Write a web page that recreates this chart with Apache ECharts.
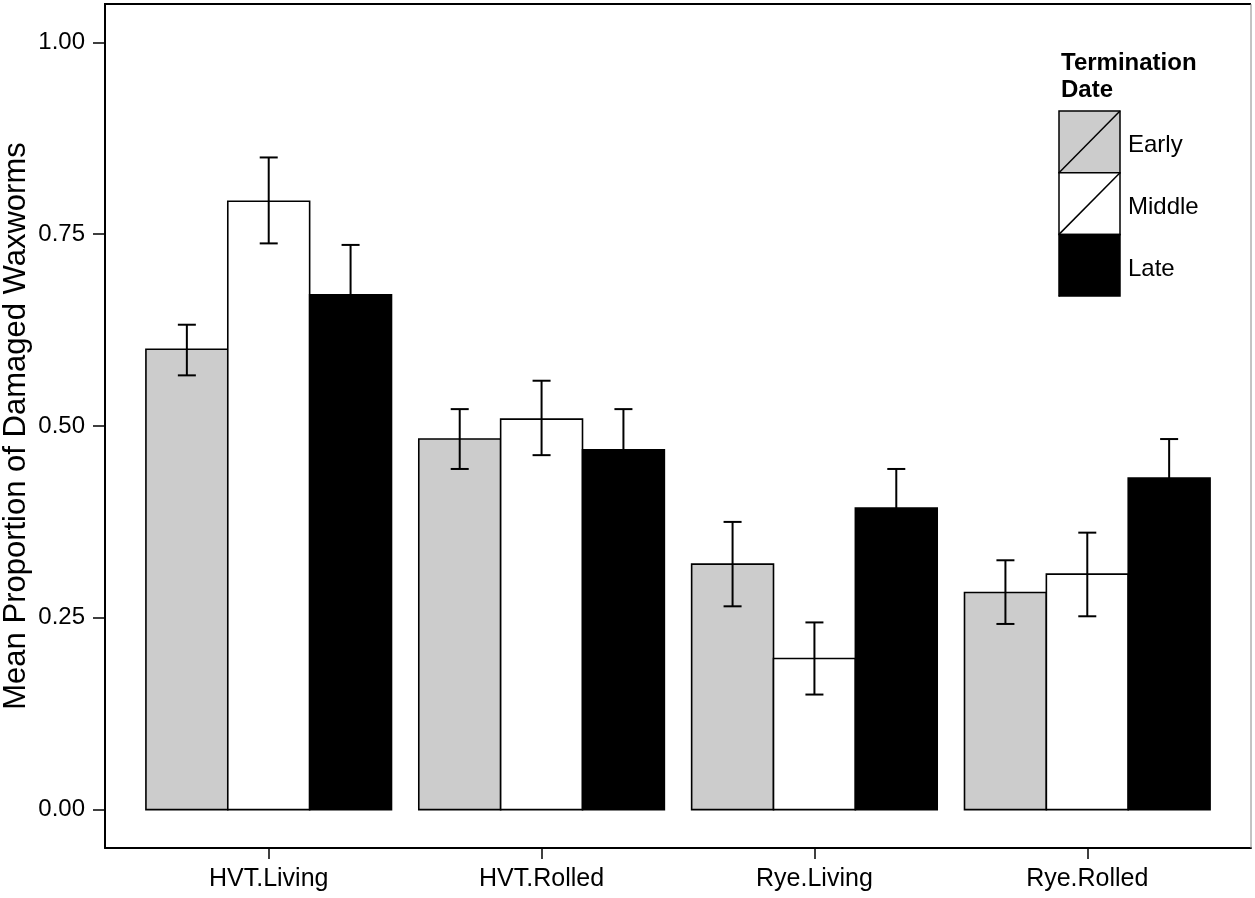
<!DOCTYPE html>
<html>
<head>
<meta charset="utf-8">
<script src="https://cdn.jsdelivr.net/npm/echarts@6/dist/echarts.min.js"></script>
<style>
html,body{margin:0;padding:0;background:#fff;}
#chart{width:1255px;height:898px;}
</style>
</head>
<body>
<div id="chart"></div>
<script>
const categories = ['HVT.Living', 'HVT.Rolled', 'Rye.Living', 'Rye.Rolled'];
const groups = ['Early', 'Middle', 'Late'];
const yTicks = [0, 0.25, 0.5, 0.75, 1.0];

const early    = [0.600, 0.483, 0.320, 0.283];
const earlyLo  = [0.566, 0.444, 0.265, 0.242];
const earlyHi  = [0.632, 0.522, 0.375, 0.325];

const middle   = [0.793, 0.509, 0.197, 0.307];
const middleLo = [0.738, 0.462, 0.150, 0.252];
const middleHi = [0.850, 0.559, 0.244, 0.361];

const late     = [0.671, 0.469, 0.393, 0.432];
const lateLo   = [0.606, 0.416, 0.341, 0.381];
const lateHi   = [0.736, 0.522, 0.444, 0.483];

const colors = ['#cccccc', '#ffffff', '#000000'];
const FONT = "'Liberation Sans', Arial, sans-serif";

const BAR_W = 0.3;
const offsets = [-0.3, 0, 0.3];
const WHISK = 0.033;

function barSeries(name, values, gi) {
  return {
    name: name,
    type: 'custom',
    data: values.map((v, i) => [i + 1, v]),
    renderItem: function (params, api) {
      const x = api.value(0) + offsets[gi];
      const v = api.value(1);
      const p1 = api.coord([x - BAR_W / 2, v]);
      const p2 = api.coord([x + BAR_W / 2, 0]);
      return {
        type: 'rect',
        shape: { x: p1[0], y: p1[1], width: p2[0] - p1[0], height: p2[1] - p1[1] },
        style: { fill: colors[gi], stroke: '#000', lineWidth: 1.6 }
      };
    },
    z: 2
  };
}

function errSeries(name, lo, hi, gi) {
  return {
    name: name + ' SE',
    type: 'custom',
    data: lo.map((l, i) => [i + 1, l, hi[i]]),
    renderItem: function (params, api) {
      const x = api.value(0) + offsets[gi];
      const l = api.value(1), h = api.value(2);
      const top = api.coord([x, h]);
      const bot = api.coord([x, l]);
      const tl = api.coord([x - WHISK, h]);
      const tr = api.coord([x + WHISK, h]);
      const bl = api.coord([x - WHISK, l]);
      const br = api.coord([x + WHISK, l]);
      const st = { stroke: '#000', lineWidth: 2 };
      return {
        type: 'group',
        children: [
          { type: 'line', shape: { x1: top[0], y1: top[1], x2: bot[0], y2: bot[1] }, style: st },
          { type: 'line', shape: { x1: tl[0], y1: tl[1], x2: tr[0], y2: tr[1] }, style: st },
          { type: 'line', shape: { x1: bl[0], y1: bl[1], x2: br[0], y2: br[1] }, style: st }
        ]
      };
    },
    z: 3
  };
}

const chart = echarts.init(document.getElementById('chart'), null, { renderer: 'canvas' });

// Legend (key boxes with diagonal)
const legX = 1059, legY = 111, keyW = 61, keyH = 61.7;
const legendGraphics = [
  {
    type: 'text', x: 1061, y: 50,
    style: { text: 'Termination\nDate', font: "bold 24px " + FONT, fill: '#000', lineHeight: 27 }
  }
];
groups.forEach((g, i) => {
  const y0 = legY + i * keyH;
  legendGraphics.push({
    type: 'rect', shape: { x: legX, y: y0, width: keyW, height: keyH },
    style: { fill: colors[i], stroke: '#000', lineWidth: 1.5 }, z: 10
  });
  legendGraphics.push({
    type: 'line', shape: { x1: legX, y1: y0 + keyH, x2: legX + keyW, y2: y0 },
    style: { stroke: '#000', lineWidth: 1.5 }, z: 11
  });
  legendGraphics.push({
    type: 'text', x: 1128, y: y0 + keyH / 2 + 4,
    style: { text: g, font: "24px " + FONT, fill: '#000', verticalAlign: 'middle' }, z: 11
  });
});
// frame top and right
legendGraphics.push({ type: 'line', shape: { x1: 104, y1: 4, x2: 1251, y2: 4 }, style: { stroke: '#000', lineWidth: 2 }, z: 20 });
legendGraphics.push({ type: 'line', shape: { x1: 1251, y1: 4, x2: 1251, y2: 848 }, style: { stroke: '#888', lineWidth: 1 }, z: 20 });

const option = {
  backgroundColor: '#fff',
  animation: false,
  grid: { left: 105, right: 4, top: 4, bottom: 50, containLabel: false, outerBoundsMode: 'none' },
  xAxis: {
    type: 'value', min: 0.4, max: 4.6,
    splitLine: { show: false },
    axisLine: { show: true, onZero: false, lineStyle: { color: '#000', width: 2 } },
    axisTick: { show: true, length: 11, customValues: [1, 2, 3, 4], lineStyle: { color: '#000', width: 1.5 } },
    axisLabel: {
      customValues: [1, 2, 3, 4],
      formatter: v => categories[Math.round(v) - 1] || '',
      fontFamily: FONT, fontSize: 25, color: '#000', margin: 19
    }
  },
  yAxis: {
    type: 'value', min: -0.05, max: 1.05,
    name: 'Mean Proportion of Damaged Waxworms',
    nameLocation: 'middle', nameGap: 73, nameRotate: 90, nameMoveOverlap: false,
    nameTextStyle: { fontFamily: FONT, fontSize: 31, color: '#000' },
    splitLine: { show: false },
    axisLine: { show: true, onZero: false, lineStyle: { color: '#000', width: 2 } },
    axisTick: { show: true, length: 12, customValues: yTicks, lineStyle: { color: '#000', width: 1.5 } },
    axisLabel: {
      customValues: yTicks,
      formatter: v => v.toFixed(2),
      fontFamily: FONT, fontSize: 24, color: '#000', margin: 20
    }
  },
  graphic: legendGraphics,
  series: [
    barSeries('Early', early, 0),
    barSeries('Middle', middle, 1),
    barSeries('Late', late, 2),
    errSeries('Early', earlyLo, earlyHi, 0),
    errSeries('Middle', middleLo, middleHi, 1),
    errSeries('Late', lateLo, lateHi, 2)
  ]
};
chart.setOption(option);
</script>
</body>
</html>
